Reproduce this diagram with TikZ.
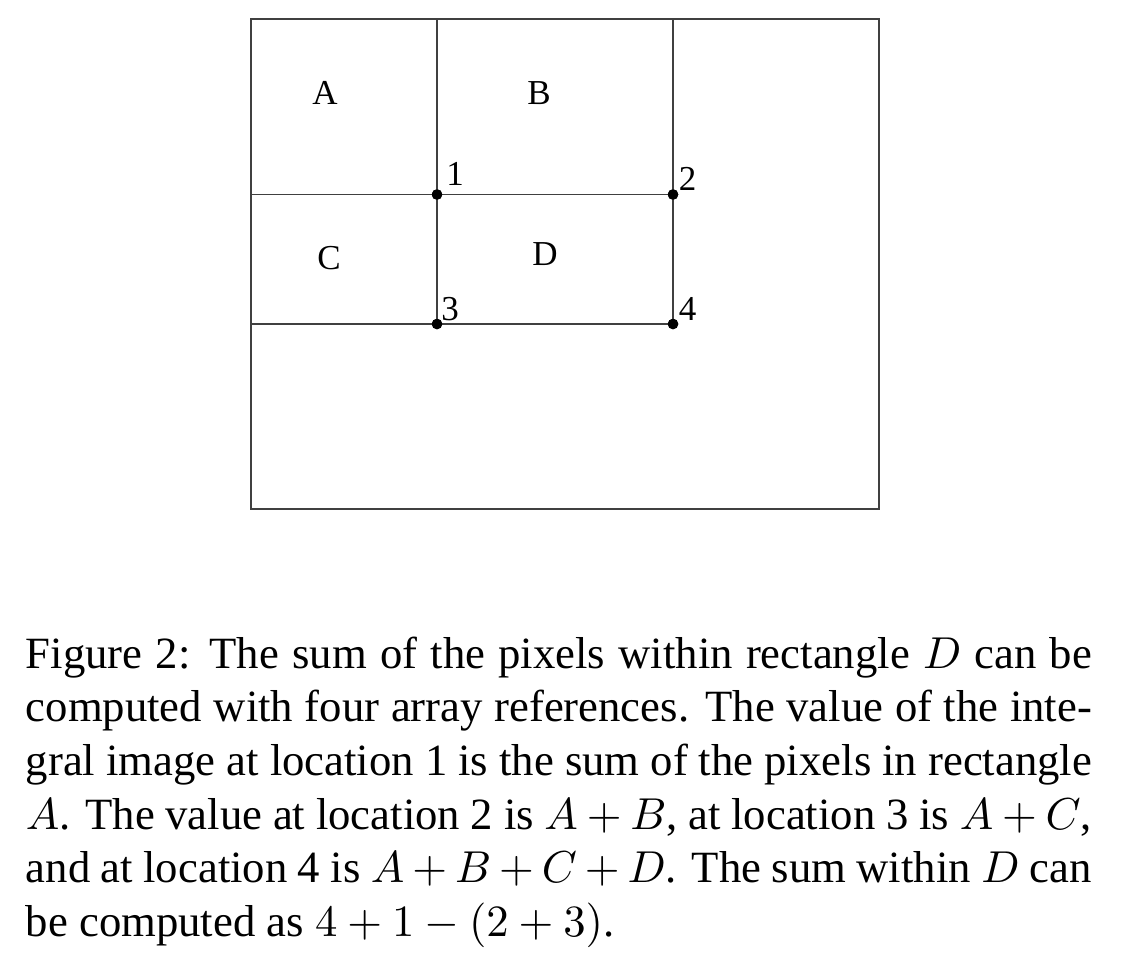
\documentclass[tikz,border=0pt]{standalone}
\usepackage{fontspec}
\setmainfont{Liberation Serif}
\tikzset{
  gridline/.style={draw=black!75, line width=1.4pt},
  region/.style={font=\fontsize{35}{40}\selectfont, inner sep=0pt},
  cornerlbl/.style={font=\fontsize{35}{40}\selectfont, inner sep=0pt, anchor=base},
  corner/.style={circle, fill=black, inner sep=0pt, minimum size=10.5pt},
  caption/.style={anchor=base west, text width=238.5pt, inner sep=0pt, align=justify,
    scale=4.47, transform shape, font=\fontsize{10}{12}\selectfont}
}
\begin{document}
\begin{tikzpicture}[x=1pt,y=-1pt]
\useasboundingbox (0,0) rectangle (1122,978);
% outer frame and grid lines
\draw[gridline] (251,19) rectangle (879,509);
\coordinate (t1) at (437,19);
\coordinate (t2) at (673,19);
\coordinate (l1) at (251,194.5);
\coordinate (l2) at (251,324);
\node[corner] (p1) at (437,194.5) {};
\node[corner] (p2) at (673,194.5) {};
\node[corner] (p3) at (437,324) {};
\node[corner] (p4) at (673,324) {};
\draw[gridline] (t1) -- (p1.center) -- (p3.center);
\draw[gridline] (t2) -- (p2.center) -- (p4.center);
\draw[gridline] (l1) -- (p1.center) -- (p2.center);
\draw[gridline] (l2) -- (p3.center) -- (p4.center);
% redraw dots on top
\fill (p1) circle (5.25pt); \fill (p2) circle (5.25pt);
\fill (p3) circle (5.25pt); \fill (p4) circle (5.25pt);
% region labels
\node[region] (ra) at (325,93) {A};
\node[region] (rb) at (539,93) {B};
\node[region] (rc) at (329,258) {C};
\node[region] (rd) at (545,254) {D};
% corner labels
\node[cornerlbl] (n1) at (455,185) {1};
\node[cornerlbl] (n2) at (687.5,190) {2};
\node[cornerlbl] (n3) at (450,320) {3};
\node[cornerlbl] (n4) at (687.5,320) {4};
% caption
\node[caption] (cap) at (25,668.3) {\hyphenpenalty=10000
Figure 2: The sum of the pixels within rectangle $D$ can be\linebreak
computed with four array references. The value of the inte-\linebreak
gral image at location 1 is the sum of the pixels in rectangle\linebreak
$A$. The value at location 2 is $A+B$, at location 3 is $A+C$,\linebreak
and at location 4 is $A+B+C+D$. The sum within $D$ can\linebreak
be computed as $4+1-(2+3)$.\par};
\end{tikzpicture}
\end{document}
